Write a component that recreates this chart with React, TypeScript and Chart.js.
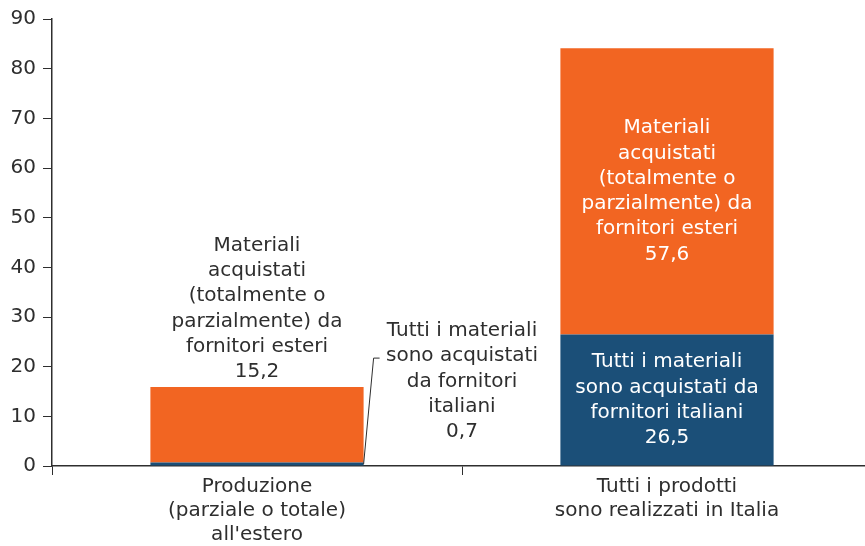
import React, { useEffect, useRef } from "react";
import { Chart, registerables } from "chart.js";

Chart.register(...registerables);

const categories: string[][] = [
  ["Produzione", "(parziale o totale)", "all'estero"],
  ["Tutti i prodotti", "sono realizzati in Italia"],
];
const italianValues = [0.7, 26.5];
const foreignValues = [15.2, 57.6];
const yTicks = [0, 10, 20, 30, 40, 50, 60, 70, 80, 90];

const foreignLabelLeft = ["Materiali", "acquistati", "(totalmente o", "parzialmente) da", "fornitori esteri", "15,2"];
const italianLabelLeft = ["Tutti i materiali", "sono acquistati", "da fornitori", "italiani", "0,7"];
const foreignLabelRight = ["Materiali", "acquistati", "(totalmente o", "parzialmente) da", "fornitori esteri", "57,6"];
const italianLabelRight = ["Tutti i materiali", "sono acquistati da", "fornitori italiani", "26,5"];

const ORANGE = "#F26522";
const NAVY = "#1B4F78";
const TEXT = "#2e2e2e";
const FONT = "'DejaVu Sans', sans-serif";
const FS = 20;
const LH = 25.3;

const labelPlugin = {
  id: "labels",
  afterDatasetsDraw(chart: any) {
    const ctx = chart.ctx;
    const x = chart.scales.x;
    const y = chart.scales.y;
    ctx.save();
    ctx.font = `${FS}px ${FONT}`;
    ctx.textAlign = "center";
    ctx.textBaseline = "middle";
    const drawBlock = (lines: string[], cx: number, cy: number, color: string) => {
      ctx.fillStyle = color;
      const n = lines.length;
      lines.forEach((l, i) => {
        ctx.fillText(l, cx, cy + (i - (n - 1) / 2) * LH);
      });
    };
    // Left bar: above the bar
    const topLeft = y.getPixelForValue(italianValues[0] + foreignValues[0]);
    const nL = foreignLabelLeft.length;
    drawBlock(foreignLabelLeft, x.getPixelForValue(0), topLeft - 15 - ((nL - 1) / 2) * LH, TEXT);
    // middle annotation
    const midX = x.getPixelForValue(0.5);
    const nM = italianLabelLeft.length;
    const lastY = y.getPixelForValue(0) - 34;
    const cyM = lastY - ((nM - 1) / 2) * LH;
    drawBlock(italianLabelLeft, midX, cyM, TEXT);
    // leader line
    const meta = chart.getDatasetMeta(0);
    const bar = meta.data[0];
    const barRight = bar.x + bar.width / 2;
    const line2Y = cyM + (1 - (nM - 1) / 2) * LH + 2;
    ctx.strokeStyle = TEXT;
    ctx.lineWidth = 1;
    ctx.beginPath();
    ctx.moveTo(barRight, y.getPixelForValue(italianValues[0] / 2));
    ctx.lineTo(barRight + 10, line2Y);
    ctx.lineTo(barRight + 16, line2Y);
    ctx.stroke();
    // Right bar labels centered in segments
    const x1 = x.getPixelForValue(1);
    const midOrange = y.getPixelForValue(italianValues[1] + foreignValues[1] / 2);
    drawBlock(foreignLabelRight, x1, midOrange, "#ffffff");
    const midNavy = y.getPixelForValue(italianValues[1] / 2);
    drawBlock(italianLabelRight, x1, midNavy, "#ffffff");
    ctx.restore();
  },
};

export default function App() {
  const ref = useRef<HTMLCanvasElement | null>(null);
  useEffect(() => {
    document.body.style.margin = "0";
    const chart = new Chart(ref.current as HTMLCanvasElement, {
      type: "bar",
      data: {
        labels: categories,
        datasets: [
          { label: "Italiani", data: italianValues, backgroundColor: NAVY, barPercentage: 0.52, categoryPercentage: 1 },
          { label: "Esteri", data: foreignValues, backgroundColor: ORANGE, barPercentage: 0.52, categoryPercentage: 1 },
        ],
      },
      options: {
        responsive: false,
        animation: false,
        layout: { padding: { top: 18, right: 0, left: 0, bottom: 0 } },
        plugins: { legend: { display: false }, tooltip: { enabled: false } },
        scales: {
          x: {
            stacked: true,
            grid: { drawOnChartArea: false, drawTicks: true, tickLength: 9, color: TEXT, offset: true },
            border: { display: true, color: TEXT, width: 1.5 },
            ticks: { color: TEXT, font: { family: FONT, size: FS, lineHeight: 1.2 }, padding: 0, maxRotation: 0 },
            afterFit: (s: any) => { s.height = 80; },
          },
          y: {
            stacked: true,
            min: 0,
            max: 90,
            afterBuildTicks: (s: any) => { s.ticks = yTicks.map((v) => ({ value: v })); },
            grid: { drawOnChartArea: false, drawTicks: true, tickLength: 9, color: TEXT },
            border: { display: true, color: TEXT, width: 1.5 },
            ticks: { color: TEXT, font: { family: FONT, size: FS }, padding: 7 },
            afterFit: (s: any) => { s.width = 52; },
          },
        },
      },
      plugins: [labelPlugin],
    });
    return () => chart.destroy();
  }, []);
  return (
    <div style={{ width: 865, height: 546, overflow: "hidden", position: "relative" }}>
      <canvas ref={ref} width={872} height={546} style={{ display: "block" }} />
    </div>
  );
}
